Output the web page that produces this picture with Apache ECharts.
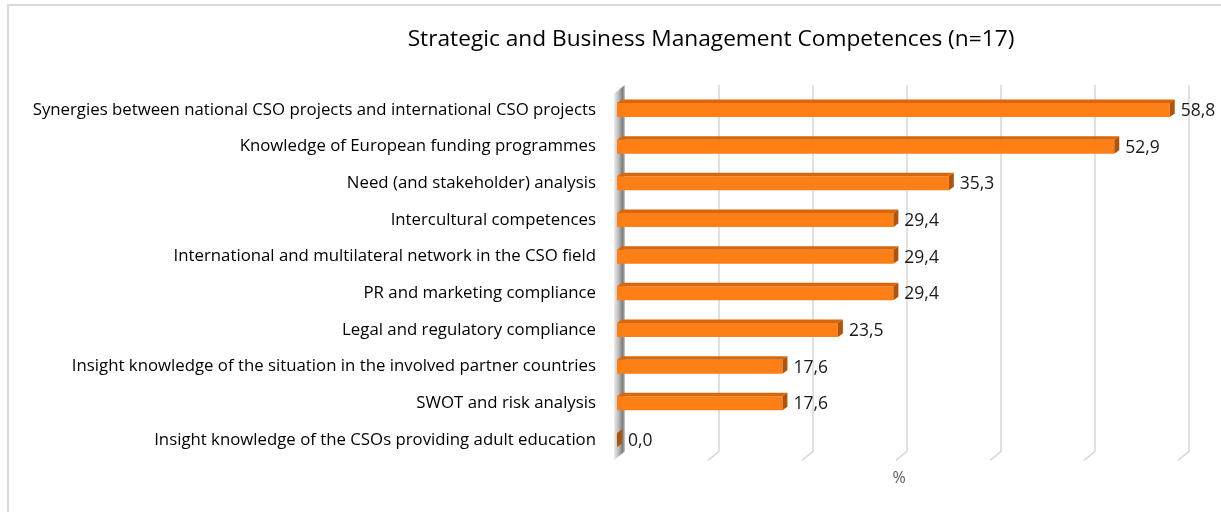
<!DOCTYPE html>
<html>
<head>
<meta charset="utf-8">
<title>Strategic and Business Management Competences</title>
<script src="https://cdn.jsdelivr.net/npm/echarts@6/dist/echarts.min.js"></script>
<style>
  html, body { margin: 0; padding: 0; background: #ffffff; }
  #chart { width: 1221px; height: 512px; }
</style>
</head>
<body>
<div id="chart"></div>
<script>
// Competence items, listed top to bottom
const categories = [
  'Synergies between national CSO projects and international CSO projects',
  'Knowledge of European funding programmes',
  'Need (and stakeholder) analysis',
  'Intercultural competences',
  'International and multilateral network in the CSO field',
  'PR and marketing compliance',
  'Legal and regulatory compliance',
  'Insight knowledge of the situation in the involved partner countries',
  'SWOT and risk analysis',
  'Insight knowledge of the CSOs providing adult education'
];

// Share of respondents, in percent
const shares = [58.8, 52.9, 35.3, 29.4, 29.4, 29.4, 23.5, 17.6, 17.6, 0.0];

// Gridline positions on the value axis
const gridTicks = [0, 10, 20, 30, 40, 50, 60];

const titleText = 'Strategic and Business Management Competences (n=17)';
const axisName = '%';

const FONT = '"Open Sans", "Noto Sans", sans-serif';

// 3D look: back wall offset and bar depth
const WALL_DX = 8, WALL_DY = -7;
const FLOOR_DX = -3, FLOOR_DY = 2;
const BAR_DX = 5, BAR_DY = -3.5;
const BAR_HALF = 7;

const fmt = v => v.toFixed(1).replace('.', ',');

const chart = echarts.init(document.getElementById('chart'), null, { renderer: 'canvas' });

function renderWalls(params, api) {
  const v = api.value(0);
  const cs = params.coordSys;
  const p = api.coord([v, 0]);
  const x = p[0];
  const bottom = cs.y + cs.height;
  const backTop = cs.y + WALL_DY;
  const backBottom = bottom + WALL_DY;
  if (v === 0) {
    // shaded side wall on the left
    return {
      type: 'polygon',
      shape: {
        points: [
          [x + FLOOR_DX, cs.y + 2],
          [x + WALL_DX, backTop],
          [x + WALL_DX, backBottom],
          [x + FLOOR_DX, bottom + FLOOR_DY]
        ]
      },
      style: {
        fill: new echarts.graphic.LinearGradient(0, 0, 1, 0, [
          { offset: 0, color: '#ececec' },
          { offset: 0.4, color: '#bdbdbd' },
          { offset: 0.8, color: '#7a7a7a' },
          { offset: 1, color: '#d0d0d0' }
        ])
      },
      silent: true
    };
  }
  return {
    type: 'polyline',
    shape: {
      points: [
        [x + WALL_DX, backTop],
        [x + WALL_DX, backBottom],
        [x + FLOOR_DX, bottom + FLOOR_DY]
      ]
    },
    style: { stroke: '#d9d9d9', lineWidth: 1.6, fill: null },
    silent: true
  };
}

function renderBar(params, api) {
  const idx = api.value(0);
  const v = api.value(1);
  const p0 = api.coord([0, idx]);
  const p1 = api.coord([v, idx]);
  const x0 = p0[0], x1 = p1[0], yc = p0[1];
  const yt = yc - BAR_HALF, yb = yc + BAR_HALF;
  return {
    type: 'group',
    children: [
      {
        type: 'rect',
        shape: { x: x0, y: yt, width: x1 - x0, height: yb - yt },
        style: { fill: '#fd7f16' }
      },
      {
        type: 'polygon',
        shape: { points: [[x0, yt], [x0 + BAR_DX, yt + BAR_DY], [x1 + BAR_DX, yt + BAR_DY], [x1, yt]] },
        style: { fill: '#d8660c' }
      },
      {
        type: 'polygon',
        shape: { points: [[x1, yt], [x1 + BAR_DX, yt + BAR_DY], [x1 + BAR_DX, yb + BAR_DY], [x1, yb]] },
        style: { fill: '#b0540a' }
      },
      {
        type: 'text',
        x: x1 + BAR_DX + 6,
        y: yc + 1,
        style: {
          text: fmt(v),
          fill: '#1a1a1a',
          font: '17.5px ' + FONT,
          verticalAlign: 'middle',
          align: 'left'
        }
      }
    ]
  };
}

const option = {
  animation: false,
  backgroundColor: '#ffffff',
  graphic: [
    {
      type: 'rect',
      shape: { x: 8, y: 5, width: 1400, height: 700 },
      style: { fill: null, stroke: '#d9d9d9', lineWidth: 2 },
      silent: true
    },
    {
      type: 'text',
      x: 711,
      y: 40,
      style: {
        text: titleText,
        fill: '#000000',
        font: '22.7px ' + FONT,
        align: 'center',
        verticalAlign: 'middle'
      }
    }
  ],
  grid: { left: 617, right: 40, top: 91.7, bottom: 53.7, containLabel: false },
  xAxis: {
    type: 'value',
    min: 0,
    max: 60,
    interval: 10,
    axisLine: { show: false },
    axisTick: { show: false },
    axisLabel: { show: false },
    splitLine: { show: false },
    name: axisName,
    nameLocation: 'middle',
    nameGap: 12,
    nameTextStyle: { color: '#595959', fontSize: 16, fontFamily: FONT, verticalAlign: 'top' }
  },
  yAxis: {
    type: 'category',
    inverse: true,
    data: categories,
    axisLine: { show: false },
    axisTick: { show: false },
    axisLabel: { color: '#000000', fontSize: 16.8, fontFamily: FONT, margin: 21, padding: [3, 0, 0, 0] }
  },
  series: [
    {
      type: 'custom',
      name: 'walls',
      z: 1,
      renderItem: renderWalls,
      encode: { x: 0 },
      data: gridTicks.map(v => [v])
    },
    {
      type: 'custom',
      name: 'share',
      z: 3,
      renderItem: renderBar,
      encode: { x: 1, y: 0 },
      data: shares.map((v, i) => [i, v])
    }
  ]
};

chart.setOption(option);
</script>
</body>
</html>
